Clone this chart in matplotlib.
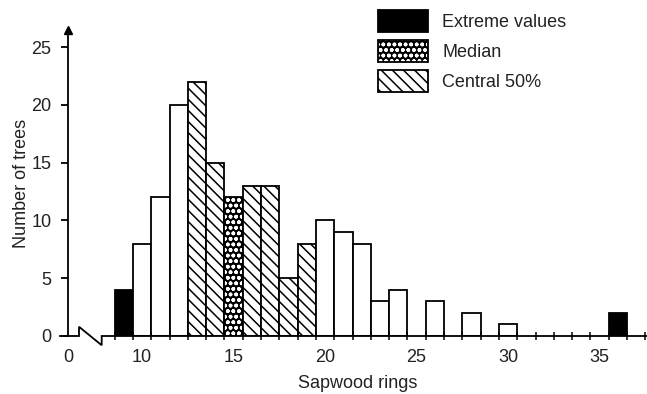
import matplotlib
matplotlib.use('Agg')
import matplotlib.pyplot as plt
from matplotlib.patches import Patch

# sapwood ring counts (one bar per ring count)
rings = list(range(9, 37))
trees = [4, 8, 12, 20, 22, 15, 12, 13, 13, 5, 8, 10, 9, 8, 3, 4, 0, 3, 0, 2, 0, 1,
         0, 0, 0, 0, 0, 2]
group = ['extreme', 'plain', 'plain', 'plain', 'central', 'central', 'median',
         'central', 'central', 'central', 'central'] + ['plain'] * 16 + ['extreme']

tick_pos = [5.95, 10, 15, 20, 25, 30, 35]
tick_lab = ['0', '10', '15', '20', '25', '30', '35']
legend_lab = ['Extreme values', 'Median', 'Central 50%']

plt.rcParams['font.family'] = ['Liberation Sans', 'DejaVu Sans']
plt.rcParams['hatch.linewidth'] = 1.1
TXT = '#222222'
LW = 1.3
HATCH = '\\\\\\'

fig = plt.figure(figsize=(6.47, 3.94), dpi=100)
W, H = 647, 394
ax = fig.add_axes([68 / W, 58 / H, 579 / W, 306 / H])

X0, X1 = 5.95, 5.95 + 579 / 18.3
Y1 = 306 / 11.56
ax.set_xlim(X0, X1)
ax.set_ylim(0, Y1)

for x, n, g in zip(rings, trees, group):
    if n == 0:
        continue
    if g == 'extreme':
        ax.bar(x, n, width=1, color='black', edgecolor='black', linewidth=LW)
    elif g == 'central':
        ax.bar(x, n, width=1, color='white', edgecolor='black', linewidth=LW, hatch=HATCH)
    elif g == 'median':
        ax.bar(x, n, width=1, color='black', edgecolor='white', linewidth=0, hatch='ooo')
        ax.bar(x, n, width=1, color='none', edgecolor='black', linewidth=LW)
    else:
        ax.bar(x, n, width=1, color='white', edgecolor='black', linewidth=LW)

# axes: custom bottom line with a break, left spine with arrow
for s in ['top', 'right', 'bottom']:
    ax.spines[s].set_visible(False)
ax.spines['left'].set_linewidth(LW)
bx0, bx1 = X0 + 11 / 18.3, X0 + 33.7 / 18.3
ax.plot([X0 - 8 / 18.3, bx0, bx0, bx1, bx1, X1], [0, 0, 0.8, -0.8, 0, 0],
        color='black', lw=LW, clip_on=False, solid_joinstyle='miter')
ax.plot([X0], [Y1], marker='^', color='black', markersize=6, clip_on=False)

ax.set_xticks(tick_pos)
ax.set_xticklabels(tick_lab)
ax.set_xticks([r + 0.5 for r in range(8, 38)], minor=True)
ax.tick_params(axis='x', which='major', length=0, pad=9, labelsize=13, labelcolor=TXT)
ax.tick_params(axis='x', which='minor', direction='inout', length=6, width=1.1)
ax.set_yticks([0, 5, 10, 15, 20, 25])
ax.tick_params(axis='y', direction='out', length=5, width=LW, pad=7,
               labelsize=13, labelcolor=TXT)

ax.set_xlabel('Sapwood rings', fontsize=13, color=TXT, labelpad=7)
ax.set_ylabel('Number of trees', fontsize=13, color=TXT, labelpad=1)

h_ext = Patch(facecolor='black', edgecolor='black', linewidth=LW)
h_med = (Patch(facecolor='black', edgecolor='white', linewidth=0, hatch='ooo'),
         Patch(facecolor='none', edgecolor='black', linewidth=LW))
h_cen = Patch(facecolor='white', edgecolor='black', linewidth=LW, hatch=HATCH)
fig.legend([h_ext, h_med, h_cen], legend_lab, loc='upper left',
           bbox_to_anchor=(378 / W, 1 - 10 / H), bbox_transform=fig.transFigure,
           frameon=False, fontsize=13, labelcolor=TXT, borderpad=0, borderaxespad=0,
           handlelength=2.78, handleheight=1.5, labelspacing=0.44, handletextpad=0.78)

fig.savefig('out.png', dpi=100)
